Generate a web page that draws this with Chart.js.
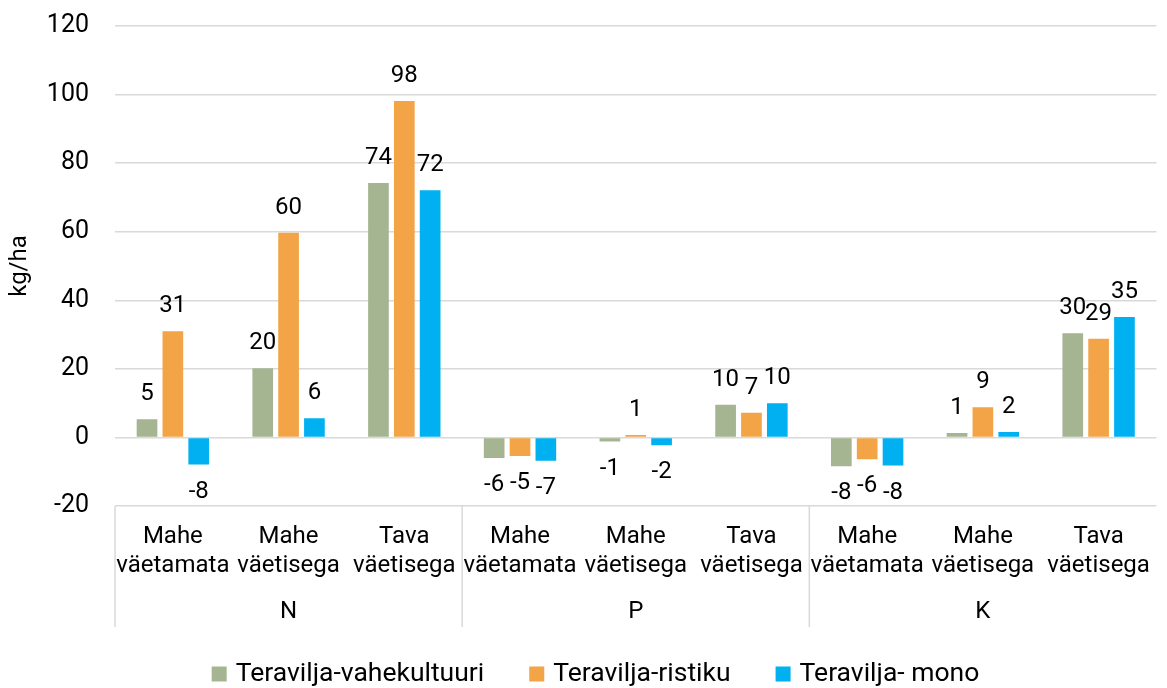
<!DOCTYPE html>
<html><head><meta charset="utf-8">
<script src="https://cdn.jsdelivr.net/npm/chart.js@4.4.0/dist/chart.umd.min.js"></script>
<style>html,body{margin:0;padding:0;background:#fff}#wrap{width:1167px;height:688px;position:relative}</style>
</head><body><div id="wrap"><canvas id="c"></canvas></div>
<script>
const groups = ['N', 'P', 'K'];
const categories = [
  ['Mahe', 'väetamata'], ['Mahe', 'väetisega'], ['Tava', 'väetisega'],
  ['Mahe', 'väetamata'], ['Mahe', 'väetisega'], ['Tava', 'väetisega'],
  ['Mahe', 'väetamata'], ['Mahe', 'väetisega'], ['Tava', 'väetisega']
];
const seriesNames = ['Teravilja-vahekultuuri', 'Teravilja-ristiku', 'Teravilja- mono'];
const vahekultuuri = [5.3, 20.2, 74.2, -6.0, -1.2, 9.5, -8.4, 1.3, 30.4];
const ristiku = [31.0, 59.7, 98.1, -5.4, 0.7, 7.2, -6.4, 8.8, 28.8];
const mono = [-7.9, 5.6, 72.1, -6.8, -2.3, 10.0, -8.2, 1.6, 35.1];
const yMin = -20, yMax = 120, yStep = 20;
const colors = ['#A5B592', '#F2A446', '#00B0F0'];
const FONT = 'Roboto';

const dataLabels = {
  id: 'dataLabels',
  afterDatasetsDraw(chart) {
    const ctx = chart.ctx;
    ctx.save();
    ctx.font = '24px ' + FONT;
    ctx.fillStyle = '#000';
    ctx.textAlign = 'center';
    ctx.textBaseline = 'middle';
    chart.data.datasets.forEach((ds, i) => {
      chart.getDatasetMeta(i).data.forEach((el, j) => {
        const v = ds.data[j];
        const y = v >= 0 ? el.y - 25 : el.y + 27;
        ctx.fillText(String(Math.round(v)), el.x, y);
      });
    });
    ctx.restore();
  }
};

const groupAxis = {
  id: 'groupAxis',
  afterDraw(chart) {
    const ctx = chart.ctx, xs = chart.scales.x, ca = chart.chartArea;
    const top = ca.bottom, bot = ca.bottom + 121;
    ctx.save();
    ctx.strokeStyle = '#d9d9d9';
    ctx.lineWidth = 1.5;
    const per = categories.length / groups.length;
    const lines = [ca.left];
    for (let g = 1; g < groups.length; g++) {
      lines.push((xs.getPixelForTick(g * per - 1) + xs.getPixelForTick(g * per)) / 2);
    }
    lines.forEach(x => { ctx.beginPath(); ctx.moveTo(x, top); ctx.lineTo(x, bot); ctx.stroke(); });
    ctx.font = '24px ' + FONT;
    ctx.fillStyle = '#000';
    ctx.textAlign = 'center';
    ctx.textBaseline = 'middle';
    groups.forEach((g, k) => {
      const x = (xs.getPixelForTick(k * per) + xs.getPixelForTick(k * per + per - 1)) / 2;
      ctx.fillText(g, x, top + 106);
    });
    // legend
    ctx.font = '26.5px ' + FONT;
    ctx.textAlign = 'left';
    const box = 15, gapText = 9, gapItem = 45;
    const widths = seriesNames.map(n => box + gapText + ctx.measureText(n).width);
    const total = widths.reduce((a, b) => a + b, 0) + gapItem * (widths.length - 1);
    let x = (chart.width - total) / 2 + 12;
    const ly = 674;
    seriesNames.forEach((n, i) => {
      ctx.fillStyle = colors[i];
      ctx.fillRect(x, ly - box / 2, box, box);
      ctx.fillStyle = '#000';
      ctx.fillText(n, x + box + gapText, ly);
      x += widths[i] + gapItem;
    });
    ctx.restore();
  }
};

new Chart(document.getElementById('c'), {
  type: 'bar',
  data: {
    labels: categories,
    datasets: [
      { label: seriesNames[0], data: vahekultuuri, backgroundColor: colors[0] },
      { label: seriesNames[1], data: ristiku, backgroundColor: colors[1] },
      { label: seriesNames[2], data: mono, backgroundColor: colors[2] }
    ]
  },
  options: {
    responsive: true,
    maintainAspectRatio: false,
    animation: false,
    datasets: { bar: { categoryPercentage: 0.67, barPercentage: 0.8 } },
    layout: { padding: { top: 26, right: 2, left: 6, bottom: 61 } },
    plugins: { legend: { display: false }, tooltip: { enabled: false } },
    scales: {
      x: {
        grid: { display: false, drawTicks: false },
        border: { display: false },
        ticks: {
          font: { family: FONT, size: 24, lineHeight: 1.2 },
          color: '#000', maxRotation: 0, autoSkip: false, padding: 17
        },
        afterFit(s) { s.height = 121; }
      },
      y: {
        min: yMin, max: yMax,
        ticks: { stepSize: yStep, font: { family: FONT, size: 25 }, color: '#000', padding: 0 },
        grid: { color: '#d9d9d9', lineWidth: 1.5, drawTicks: true, tickLength: 26, tickColor: 'rgba(0,0,0,0)' },
        border: { display: false },
        title: { display: true, text: 'kg/ha', font: { family: FONT, size: 24 }, color: '#000', padding: 0 },
        afterFit(s) { s.width = 109; }
      }
    }
  },
  plugins: [dataLabels, groupAxis]
});
</script>
</body></html>
